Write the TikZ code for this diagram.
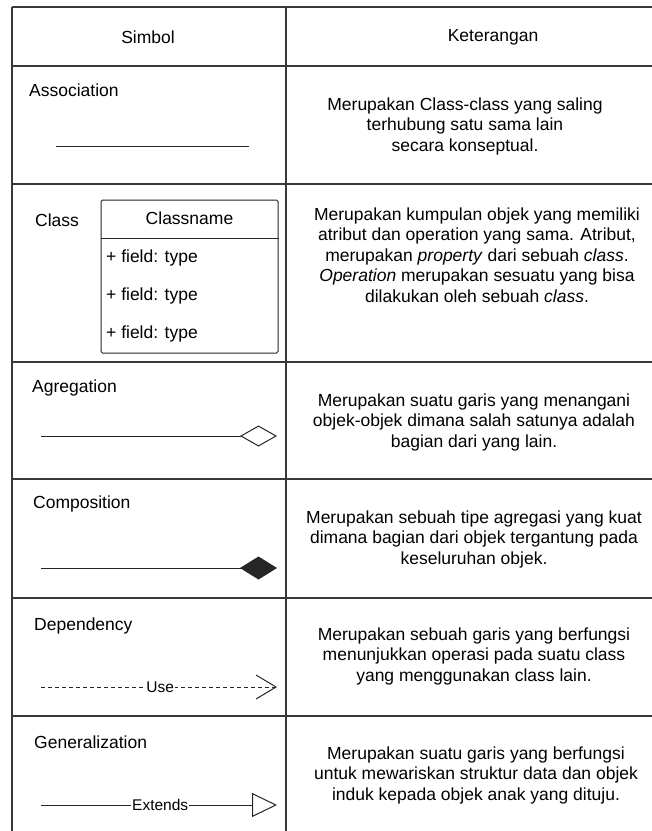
\documentclass[tikz,border=0pt]{standalone}
\usepackage{fontspec}
\setmainfont{Liberation Sans}
\usetikzlibrary{arrows.meta,positioning}

\begin{document}
\begin{tikzpicture}
  [x=1pt,y=-1pt,
  tableline/.style={draw=black!78,line width=1.3pt},
  title/.style={inner sep=0pt,font=\fontsize{17.5}{20.5}\selectfont},
  symname/.style={anchor=west,inner sep=0pt,font=\fontsize{17.5}{20.5}\selectfont},
  info/.style={align=center,inner sep=0pt,font=\fontsize{17.5}{20.5}\selectfont},
  field/.style={anchor=west,inner sep=0pt,font=\fontsize{17.5}{20.5}\selectfont},
  symline/.style={draw=black!85,line width=1pt},
  tag/.style={fill=white,inner sep=1pt,font=\fontsize{15.5}{18}\selectfont}]

\useasboundingbox (0,0) rectangle (652,831);

% table
\foreach \y in {7,66,184,362,479,598,716}
  \draw[tableline] (12,\y) -- (652,\y);
\draw[tableline] (12,7) -- (12,831);
\draw[tableline] (286,7) -- (286,831);

% header
\node[title] (head-simbol) at (148,37) {Simbol};
\node[title] (head-keterangan) at (493,37) {Keterangan};

% association
\node[symname] (assoc-name) at (29,90) {Association};
\coordinate (assoc-from) at (56,146);
\coordinate (assoc-to) at (249,146);
\draw[symline] (assoc-from) -- (assoc-to);
\node[info] (assoc-info) at (465,126) {Merupakan Class-class yang saling\\terhubung satu sama lain\\secara konseptual.};

% class
\node[symname] (class-name) at (35,220) {Class};
\node[draw=black!85,line width=1pt,rounded corners=1.5pt,minimum width=177,minimum height=153,inner sep=0pt] (class-box) at (189.5,276.5) {};
\node[title] (class-title) at (189.5,218) {Classname};
\draw[symline] (class-box.west |- 0,238) -- (class-box.east |- 0,238);
\node[field] (field-a) at (106,258) {+ field: type};
\node[field] (field-b) at (106,296) {+ field: type};
\node[field] (field-c) at (106,334) {+ field: type};
\node[info] (class-info) at (477,255) {Merupakan kumpulan objek yang memiliki\\atribut dan operation yang sama. Atribut,\\merupakan \textit{property} dari sebuah \textit{class}.\\\textit{Operation} merupakan sesuatu yang bisa\\dilakukan oleh sebuah \textit{class}.};

% agregation
\node[symname] (agg-name) at (32,388) {Agregation};
\coordinate (agg-from) at (41,436);
\coordinate (agg-to) at (277,436);
\draw[symline,-{Diamond[open,length=37pt,width=21pt]}] (agg-from) -- (agg-to);
\node[info] (agg-info) at (474,422) {Merupakan suatu garis yang menangani\\objek-objek dimana salah satunya adalah\\bagian dari yang lain.};

% composition
\node[symname] (comp-name) at (33,504) {Composition};
\coordinate (comp-from) at (41,568);
\coordinate (comp-to) at (277,568);
\draw[symline,-{Diamond[length=37pt,width=23pt]}] (comp-from) -- (comp-to);
\node[info] (comp-info) at (474,539) {Merupakan sebuah tipe agregasi yang kuat\\dimana bagian dari objek tergantung pada\\keseluruhan objek.};

% dependency
\node[symname] (dep-name) at (34,626) {Dependency};
\coordinate (dep-from) at (41,687);
\coordinate (dep-to) at (277,687);
\draw[symline,dash pattern=on 4pt off 3pt,-{Straight Barb[length=20pt,width=24pt]}] (dep-from) -- node[tag,pos=0.505] {Use} (dep-to);
\node[info] (dep-info) at (474,656) {Merupakan sebuah garis yang berfungsi\\menunjukkan operasi pada suatu class\\yang menggunakan class lain.};

% generalization
\node[symname] (gen-name) at (34,742) {Generalization};
\coordinate (gen-from) at (41,805);
\coordinate (gen-to) at (277,805);
\draw[symline,-{Triangle[open,length=25pt,width=24pt]}] (gen-from) -- node[tag,pos=0.505] {Extends} (gen-to);
\node[info] (gen-info) at (476,775) {Merupakan suatu garis yang berfungsi\\untuk mewariskan struktur data dan objek\\induk kepada objek anak yang dituju.};

\end{tikzpicture}
\end{document}
